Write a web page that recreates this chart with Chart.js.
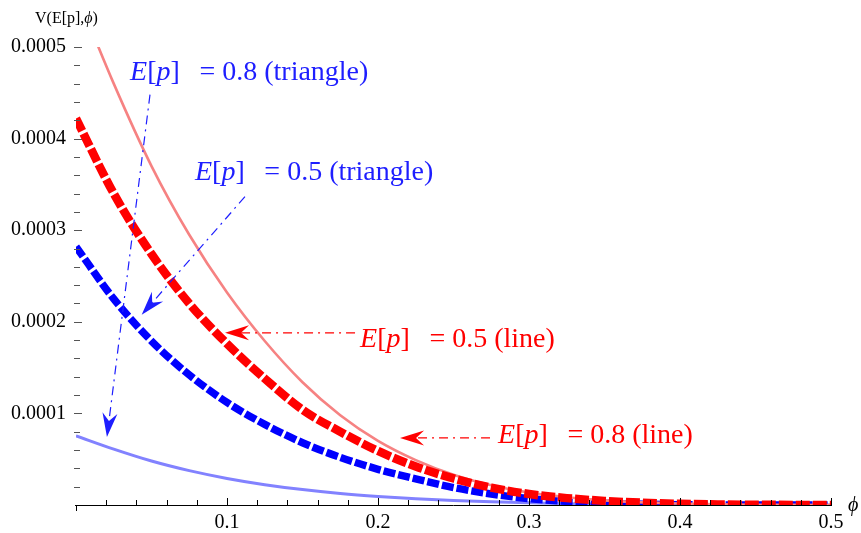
<!DOCTYPE html>
<html>
<head>
<meta charset="utf-8">
<script src="https://cdn.jsdelivr.net/npm/chart.js@4/dist/chart.umd.min.js"></script>
<style>
  body { margin: 0; background: #fff; }
</style>
</head>
<body>
<canvas id="vChart" width="861" height="533"></canvas>
<script>
// phi samples shared by all four curves
const phi = [0, 0.025, 0.05, 0.075, 0.1, 0.125, 0.15, 0.175, 0.2, 0.225, 0.25,
             0.275, 0.3, 0.325, 0.35, 0.375, 0.4, 0.425, 0.45, 0.475, 0.5];

// E[p] = 0.5 (line) - thick red dashed
const lineHalf = [0.000422, 0.00034, 0.000274, 0.00022, 0.000176, 0.000138, 0.000104, 0.00008,
                  0.000059, 0.000042, 0.000029, 0.000019, 0.000012, 0.0000075, 0.0000045,
                  0.0000025, 0.0000013, 0.0000006, 0.00000025, 0.0000001, 0];
// E[p] = 0.8 (line) - light red solid
const line08 = [0.00056, 0.00046, 0.00037, 0.000295, 0.000232, 0.000179, 0.000134, 0.000098,
                0.00007, 0.000049, 0.000033, 0.0000215, 0.0000135, 0.0000085, 0.000005,
                0.0000029, 0.0000016, 0.0000008, 0.00000035, 0.0000001, 0];
// E[p] = 0.5 (triangle) - thick blue dashed
const triHalf = [0.000282, 0.000225, 0.000179, 0.000142, 0.000112, 0.000088, 0.000068, 0.000052,
                 0.000039, 0.0000285, 0.000019, 0.000012, 0.000007, 0.000004, 0.000002,
                 0.0000009, 0.0000003, 0.0000001, 0, 0, 0];
// E[p] = 0.8 (triangle) - light blue solid
const tri08 = [0.0000755, 0.000061, 0.000048, 0.0000375, 0.000029, 0.0000222, 0.0000168, 0.0000126,
               0.0000094, 0.0000069, 0.000005, 0.0000035, 0.0000024, 0.0000015, 0.0000009,
               0.0000005, 0.00000025, 0.0000001, 0, 0, 0];

const xTicks = [0.1, 0.2, 0.3, 0.4, 0.5];
const yTicks = [0.0001, 0.0002, 0.0003, 0.0004, 0.0005];
const xMinor = 0.02;
const yMinor = 0.00002;

const serif = '"Liberation Serif", "DejaVu Serif", serif';
const blueTxt = 'rgb(30,30,255)';
const redTxt = 'rgb(255,0,0)';

// callouts: text baseline start, arrow start and arrow tip, all in data units
const notes = [
  { label: '0.8 (triangle)', color: blueTxt, at: [0.0358, 0.0004645], from: [0.049, 0.000448], to: [0.0205, 0.0000743] },
  { label: '0.5 (triangle)', color: blueTxt, at: [0.0788, 0.0003552], from: [0.1119, 0.0003366], to: [0.0435, 0.0002077] },
  { label: '0.5 (line)', color: redTxt, at: [0.1881, 0.0001727], from: [0.1848, 0.000188], to: [0.0987, 0.000188] },
  { label: '0.8 (line)', color: redTxt, at: [0.2795, 0.0000678], from: [0.2742, 0.0000732], to: [0.2146, 0.0000732] }
];

const pts = (ys) => phi.map((p, i) => ({ x: p, y: ys[i] }));

function rich(ctx, x, y, parts, size, color) {
  ctx.fillStyle = color;
  ctx.textAlign = 'left';
  ctx.textBaseline = 'alphabetic';
  for (const p of parts) {
    if (p.gap) { x += p.gap * size; continue; }
    ctx.font = (p.it ? 'italic ' : '') + size + 'px ' + serif;
    ctx.fillText(p.t, x, y);
    x += ctx.measureText(p.t).width;
  }
}

function arrow(ctx, x0, y0, x1, y1, color) {
  const ang = Math.atan2(y1 - y0, x1 - x0);
  const len = 24, half = 7.5, notch = 16;
  const c = Math.cos(ang), s = Math.sin(ang);
  ctx.strokeStyle = color;
  ctx.lineWidth = 1.2;
  ctx.setLineDash([9, 5, 2, 5]);
  ctx.beginPath();
  ctx.moveTo(x0, y0);
  ctx.lineTo(x1 - c * notch, y1 - s * notch);
  ctx.stroke();
  ctx.setLineDash([]);
  ctx.fillStyle = color;
  ctx.beginPath();
  ctx.moveTo(x1, y1);
  ctx.lineTo(x1 - c * len - s * half, y1 - s * len + c * half);
  ctx.lineTo(x1 - c * notch, y1 - s * notch);
  ctx.lineTo(x1 - c * len + s * half, y1 - s * len - c * half);
  ctx.closePath();
  ctx.fill();
}

const overlay = {
  id: 'overlay',
  afterDatasetsDraw(chart) {
    const { ctx, chartArea: a, scales: { x, y } } = chart;
    ctx.save();
    // x axis on top of the curves
    ctx.strokeStyle = '#000';
    ctx.lineWidth = 1;
    ctx.beginPath();
    ctx.moveTo(a.left - 1, a.bottom + 0.5);
    ctx.lineTo(a.right + 1, a.bottom + 0.5);
    ctx.stroke();
    for (let i = 0; i <= Math.round(0.5 / xMinor); i++) {
      const px = Math.round(x.getPixelForValue(i * xMinor)) + 0.5;
      ctx.beginPath();
      if (i === 0) {
        ctx.moveTo(px, a.bottom);
        ctx.lineTo(px, a.bottom + 6);
      } else {
        ctx.moveTo(px, a.bottom);
        ctx.lineTo(px, a.bottom - (i % 5 === 0 ? 7 : 5));
      }
      ctx.stroke();
    }
    ctx.strokeStyle = '#555';
    for (let i = 1; i <= Math.round(0.0005 / yMinor); i++) {
      const py = Math.round(y.getPixelForValue(i * yMinor)) + 0.5;
      ctx.beginPath();
      ctx.moveTo(a.left - 2, py);
      ctx.lineTo(a.left + (i % 5 === 0 ? 6 : 4), py);
      ctx.stroke();
    }
    ctx.restore();
  },
  afterDraw(chart) {
    const { ctx, chartArea: a, scales: { x, y } } = chart;
    ctx.save();
    for (const n of notes) {
      arrow(ctx, x.getPixelForValue(n.from[0]), y.getPixelForValue(n.from[1]),
            x.getPixelForValue(n.to[0]), y.getPixelForValue(n.to[1]), n.color);
      rich(ctx, x.getPixelForValue(n.at[0]), y.getPixelForValue(n.at[1]), [
        { t: 'E', it: true }, { t: '[' }, { t: 'p', it: true }, { t: ']' },
        { gap: 0.7 }, { t: '=' }, { gap: 0.25 }, { t: n.label }
      ], 28, n.color);
    }
    // axis titles
    rich(ctx, 35, 23, [{ t: 'V(E[p],' }, { t: 'ϕ', it: true }, { t: ')' }], 16, '#000');
    rich(ctx, a.right + 17, a.bottom + 6, [{ t: 'ϕ', it: true }], 20, '#000');
    ctx.restore();
  }
};

new Chart(document.getElementById('vChart'), {
  type: 'line',
  data: {
    datasets: [
      {
        label: 'E[p] = 0.5 (line)',
        data: pts(lineHalf),
        borderColor: 'rgb(255,0,0)',
        borderWidth: 8.5,
        borderDash: [14, 3],
        borderCapStyle: 'butt'
      },
      {
        label: 'E[p] = 0.8 (line)',
        data: pts(line08),
        borderColor: 'rgb(246,130,130)',
        borderWidth: 2.6
      },
      {
        label: 'E[p] = 0.5 (triangle)',
        data: pts(triHalf),
        borderColor: 'rgb(0,0,255)',
        borderWidth: 7.5,
        borderDash: [12, 3],
        borderCapStyle: 'butt'
      },
      {
        label: 'E[p] = 0.8 (triangle)',
        data: pts(tri08),
        borderColor: 'rgb(130,130,255)',
        borderWidth: 3
      }
    ]
  },
  options: {
    responsive: false,
    animation: false,
    layout: { padding: { top: 47, right: 30, left: 0, bottom: 0 } },
    elements: {
      point: { radius: 0 },
      line: { cubicInterpolationMode: 'monotone', fill: false }
    },
    plugins: { legend: { display: false }, tooltip: { enabled: false } },
    scales: {
      x: {
        type: 'linear',
        min: 0,
        max: 0.5,
        afterBuildTicks: (s) => { s.ticks = xTicks.map(v => ({ value: v })); },
        afterFit: (s) => { s.height = 28; },
        grid: { display: false, drawTicks: false },
        border: { display: false },
        ticks: {
          padding: 6,
          color: '#000',
          font: { family: serif, size: 20 },
          callback: (v) => Number(v).toFixed(1)
        }
      },
      y: {
        type: 'linear',
        min: 0,
        max: 0.0005,
        afterBuildTicks: (s) => { s.ticks = yTicks.map(v => ({ value: v })); },
        afterFit: (s) => { s.width = 76; },
        grid: { display: false, drawTicks: false },
        border: { display: false },
        ticks: {
          padding: 10,
          color: '#000',
          font: { family: serif, size: 20 },
          callback: (v) => Number(v).toFixed(4)
        }
      }
    }
  },
  plugins: [overlay]
});
</script>
</body>
</html>
